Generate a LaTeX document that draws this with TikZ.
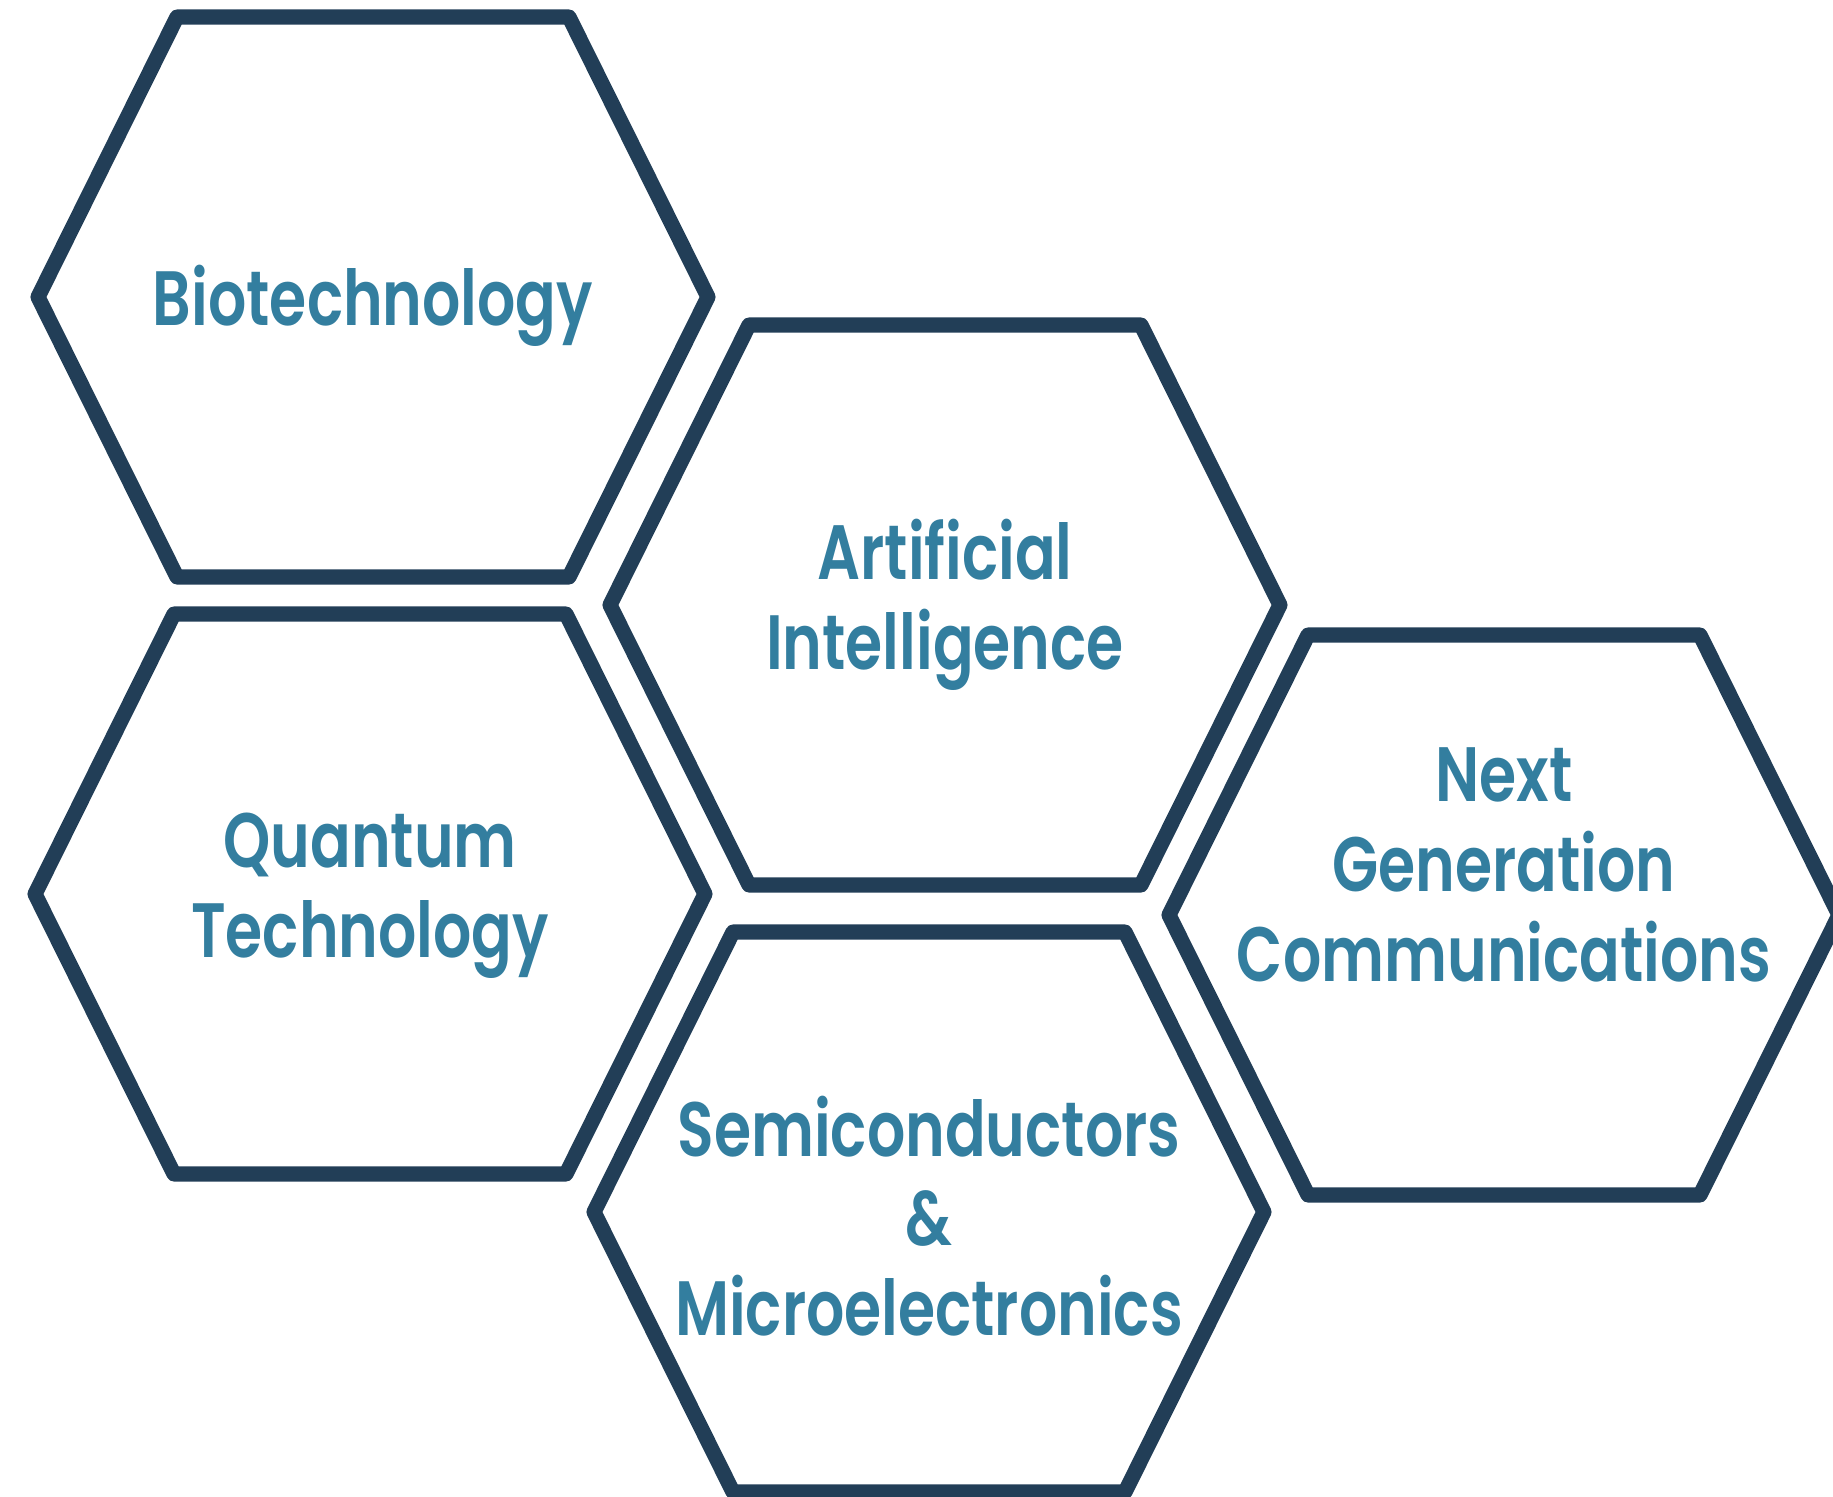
\documentclass[tikz,border=0pt]{standalone}
\usepackage{fontspec}
\usetikzlibrary{calc}
\newfontfamily\hexfont{Poppins SemiBold}[FakeStretch=0.78]
\definecolor{hexnavy}{RGB}{34,62,87}
\definecolor{hexteal}{RGB}{51,126,159}

% one honeycomb cell: name, centre, label shift, label
\newcommand{\hexcell}[4]{%
  \coordinate (#1) at (#2);
  \draw[hexline] (#1) ++(-196,-280) -- ++(392,0) -- ++(139,280)
    -- ++(-139,280) -- ++(-392,0) -- ++(-139,-280) -- cycle;
  \node[hextext] (#1-label) at ($(#1)+(#3)$) {#4};
}

\begin{document}
\begin{tikzpicture}[x=0.01cm,y=-0.01cm,
  hexline/.style={draw=hexnavy,line width=4.3pt,line join=round},
  hextext/.style={text=hexteal,align=center,
    font=\hexfont\fontsize{21.9pt}{25.5pt}\selectfont}]
 \useasboundingbox (0,0) rectangle (1833,1496);

 \hexcell{bio}{373,297}{0,9}{Biotechnology}
 \hexcell{ai}{945,605}{0,0}{Artificial\\Intelligence}
 \hexcell{nextgen}{1504,915}{0,-50}{Next\\Generation\\Communications}
 \hexcell{quantum}{370,894}{0,2}{Quantum\\Technology}
 \hexcell{semi}{929,1212}{0,4}{Semiconductors\\\&\\Microelectronics}

\end{tikzpicture}
\end{document}
